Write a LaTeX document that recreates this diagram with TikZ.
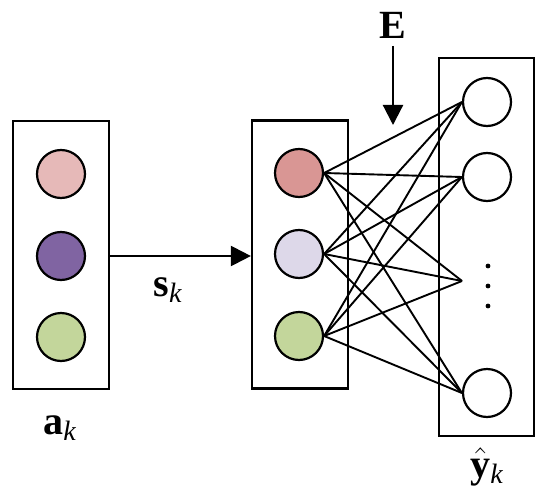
\documentclass[tikz,border=0pt]{standalone}
\usepackage{fontspec}
\setmainfont{Liberation Serif}
\usetikzlibrary{arrows.meta}
\definecolor{inA}{HTML}{E6B9B8}
\definecolor{inB}{HTML}{8064A2}
\definecolor{inC}{HTML}{C3D69B}
\definecolor{hidA}{HTML}{D99694}
\definecolor{hidB}{HTML}{DDD8E9}
\definecolor{hidC}{HTML}{C3D69B}
\newcommand{\lbl}[1]{{\fontsize{20}{24}\selectfont #1}}

\begin{document}
\begin{tikzpicture}[
    x=0.5pt, y=-0.5pt,
    >={Triangle[length=10pt,width=10pt]},
    layer/.style={draw, line width=1.1pt, rectangle, minimum width=48pt, inner sep=0pt},
    unit/.style={draw, line width=1.1pt, circle, minimum size=24pt, inner sep=0pt},
    arr/.style={->, line width=1.1pt},
    link/.style={line width=0.95pt},
]
\useasboundingbox (0,0) rectangle (550,497);

% --- layer boxes ---
\node[layer, minimum height=134pt] (inbox)  at (61,255)    {};
\node[layer, minimum height=134pt] (hidbox) at (300,254.5) {};
\node[layer, minimum height=189pt, minimum width=47.5pt] (outbox) at (486.5,247) {};

% --- input units ---
\node[unit, fill=inA] (in1) at (61,174) {};
\node[unit, fill=inB] (in2) at (61,256) {};
\node[unit, fill=inC] (in3) at (61,337) {};

% --- hidden units ---
\node[unit, fill=hidA] (hid1) at (299,173) {};
\node[unit, fill=hidB] (hid2) at (299,254) {};
\node[unit, fill=hidC] (hid3) at (299,336) {};

% --- output units ---
\node[unit, fill=white] (out1) at (487,102) {};
\node[unit, fill=white] (out2) at (487,177) {};
\node[unit, fill=white] (out3) at (487,393) {};
\coordinate (outdots) at (462,281);
\foreach \yy in {266,286,306}
    \fill (488,\yy) circle (1.2pt);

% --- full connections ---
\foreach \h in {1,2,3} {
    \draw[link] (hid\h.east) -- (out1.west);
    \draw[link] (hid\h.east) -- (out2.west);
    \draw[link] (hid\h.east) -- (outdots);
    \draw[link] (hid\h.east) -- (out3.west);
}

% --- arrows ---
\draw[arr] (inbox.east |- in2) -- (hidbox.west |- in2);
\node (elbl) at (393,25) {\lbl{$\mathbf{E}$}};
\coordinate (etip) at (393,125);
\draw[arr] (393,46) -- (etip);

% --- labels ---
\node (albl) at (60,428)  {\lbl{$\mathbf{a}_{\mathit{k}}$}};
\node (slbl) at (168,290) {\lbl{$\mathbf{s}_{\mathit{k}}$}};
\node (ylbl) at (487,467) {\lbl{$\hat{\mathbf{y}}_{\mathit{k}}$}};

\end{tikzpicture}
\end{document}
